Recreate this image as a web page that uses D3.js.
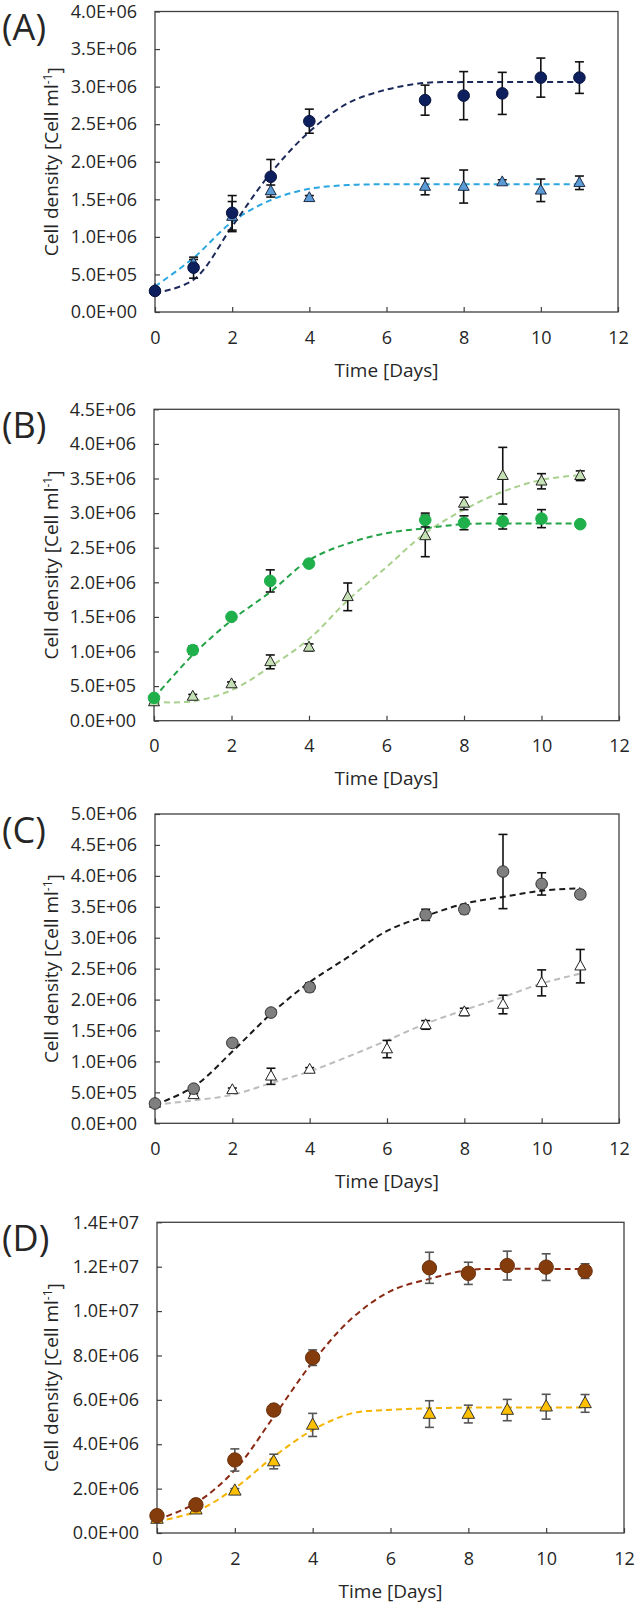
<!DOCTYPE html>
<html><head><meta charset="utf-8">
<script src="https://cdn.jsdelivr.net/npm/d3@7"></script>
<style>
body{margin:0;background:#fff}
svg{display:block}
text{font-family:'Open Sans',sans-serif;font-weight:400;fill:#262626}
</style>
</head><body>
<svg id="chart" width="635" height="1607"></svg>
<script>
// ---------- data (cells per ml) ----------
const xTicks = [0,2,4,6,8,10,12];
const fitDays = [0,1,2,3,4,5,6,7,8,9,10,11];
const daysMain = [0,1,2,3,4,7,8,9,10,11];

// Panel A
const aCircleVal = [0.28e6,0.59e6,1.32e6,1.80e6,2.54e6,2.82e6,2.88e6,2.91e6,3.12e6,3.12e6];
const aCircleErr = [0.03e6,0.14e6,0.23e6,0.23e6,0.16e6,0.20e6,0.32e6,0.28e6,0.26e6,0.21e6];
const aTriVal    = [0.30e6,0.65e6,1.27e6,1.61e6,1.52e6,1.67e6,1.67e6,1.73e6,1.62e6,1.72e6];
const aTriErr    = [0.02e6,0.05e6,0.20e6,0.08e6,0.03e6,0.11e6,0.22e6,0.03e6,0.15e6,0.09e6];
const aFitCircle = [0.25e6,0.43e6,1.14e6,1.85e6,2.40e6,2.78e6,2.96e6,3.05e6,3.06e6,3.06e6,3.06e6,3.06e6];
const aFitTri    = [0.34e6,0.72e6,1.20e6,1.49e6,1.64e6,1.69e6,1.70e6,1.70e6,1.70e6,1.70e6,1.70e6,1.70e6];
const aYTicks = [0,0.5e6,1.0e6,1.5e6,2.0e6,2.5e6,3.0e6,3.5e6,4.0e6];

// Panel B
const bTriDays   = [0,1,2,3,4,5,7,8,9,10,11];
const bCircleVal = [0.33e6,1.02e6,1.50e6,2.02e6,2.27e6,2.90e6,2.86e6,2.88e6,2.92e6,2.84e6];
const bCircleErr = [0.02e6,0.06e6,0.03e6,0.16e6,0.04e6,0.10e6,0.10e6,0.11e6,0.13e6,0.03e6];
const bTriVal    = [0.27e6,0.35e6,0.53e6,0.85e6,1.06e6,1.79e6,2.67e6,3.14e6,3.54e6,3.46e6,3.54e6];
const bTriErr    = [0.02e6,0.03e6,0.03e6,0.10e6,0.05e6,0.20e6,0.30e6,0.09e6,0.41e6,0.11e6,0.07e6];
const bFitCircle = [0.33e6,0.95e6,1.45e6,1.86e6,2.32e6,2.56e6,2.71e6,2.78e6,2.84e6,2.85e6,2.85e6,2.85e6];
const bFitTri    = [0.27e6,0.28e6,0.44e6,0.78e6,1.18e6,1.74e6,2.22e6,2.71e6,3.05e6,3.31e6,3.48e6,3.55e6];
const bYTicks = [0,0.5e6,1.0e6,1.5e6,2.0e6,2.5e6,3.0e6,3.5e6,4.0e6,4.5e6];

// Panel C
const cTriDays   = [0,1,2,3,4,6,7,8,9,10,11];
const cCircleVal = [0.32e6,0.56e6,1.30e6,1.79e6,2.20e6,3.37e6,3.46e6,4.07e6,3.87e6,3.70e6];
const cCircleErr = [0.02e6,0.03e6,0.04e6,0.05e6,0.07e6,0.09e6,0.07e6,0.60e6,0.18e6,0.04e6];
const cTriVal    = [0.32e6,0.46e6,0.54e6,0.76e6,0.87e6,1.20e6,1.59e6,1.80e6,1.92e6,2.27e6,2.54e6];
const cTriErr    = [0.02e6,0.02e6,0.03e6,0.13e6,0.03e6,0.14e6,0.07e6,0.06e6,0.15e6,0.21e6,0.27e6];
const cFitCircle = [0.30e6,0.59e6,1.16e6,1.77e6,2.28e6,2.69e6,3.11e6,3.35e6,3.55e6,3.66e6,3.76e6,3.80e6];
const cFitTri    = [0.30e6,0.37e6,0.46e6,0.65e6,0.84e6,1.08e6,1.34e6,1.61e6,1.83e6,2.04e6,2.26e6,2.42e6];
const cYTicks = [0,0.5e6,1.0e6,1.5e6,2.0e6,2.5e6,3.0e6,3.5e6,4.0e6,4.5e6,5.0e6];

// Panel D
const dCircleVal = [0.78e6,1.27e6,3.29e6,5.54e6,7.90e6,11.95e6,11.70e6,12.05e6,11.98e6,11.80e6];
const dCircleErr = [0.10e6,0.10e6,0.50e6,0.10e6,0.35e6,0.70e6,0.50e6,0.65e6,0.60e6,0.33e6];
const dTriVal    = [0.63e6,1.05e6,1.90e6,3.22e6,4.87e6,5.36e6,5.36e6,5.54e6,5.69e6,5.84e6];
const dTriErr    = [0.05e6,0.08e6,0.10e6,0.33e6,0.52e6,0.60e6,0.40e6,0.48e6,0.56e6,0.40e6];
const dFitCircle = [0.60e6,1.35e6,2.84e6,5.24e6,7.70e6,9.66e6,10.90e6,11.45e6,11.85e6,11.90e6,11.90e6,11.90e6];
const dFitTri    = [0.52e6,0.97e6,2.02e6,3.44e6,4.64e6,5.39e6,5.55e6,5.62e6,5.65e6,5.65e6,5.65e6,5.65e6];
const dYTicks = [0,2e6,4e6,6e6,8e6,10e6,12e6,14e6];

const panelLabels = ["(A)","(B)","(C)","(D)"];

// ---------- layout & style ----------
const panels = [
  {label:panelLabels[0], box:{l:155,r:618,t:11.5,b:312}, yTicks:aYTicks,
   circle:{days:daysMain,val:aCircleVal,err:aCircleErr,fill:"#0d1f5c",stroke:"#0a1540",r:5.8},
   tri:{days:daysMain,val:aTriVal,err:aTriErr,fill:"#5b9bd5",stroke:"#1f2a44",s:11},
   fitC:{val:aFitCircle,color:"#1c2a5a"}, fitT:{val:aFitTri,color:"#2aa7e0"}, errColor:"#111"},
  {label:panelLabels[1], box:{l:154,r:619,t:409.3,b:720.7}, yTicks:bYTicks,
   circle:{days:daysMain,val:bCircleVal,err:bCircleErr,fill:"#1fb04c",stroke:"#1fb04c",r:5.8},
   tri:{days:bTriDays,val:bTriVal,err:bTriErr,fill:"#c5e0b4",stroke:"#222",s:11},
   fitC:{val:bFitCircle,color:"#25a348"}, fitT:{val:bFitTri,color:"#a9d18e"}, errColor:"#111"},
  {label:panelLabels[2], box:{l:155,r:619,t:814,b:1123.3}, yTicks:cYTicks,
   circle:{days:daysMain,val:cCircleVal,err:cCircleErr,fill:"#7f7f7f",stroke:"#333",r:5.8},
   tri:{days:cTriDays,val:cTriVal,err:cTriErr,fill:"#ffffff",stroke:"#222",s:11},
   fitC:{val:cFitCircle,color:"#1a1a1a"}, fitT:{val:cFitTri,color:"#bdbdbd"}, errColor:"#111"},
  {label:panelLabels[3], box:{l:157,r:624,t:1222.3,b:1533}, yTicks:dYTicks,
   circle:{days:daysMain,val:dCircleVal,err:dCircleErr,fill:"#843c0c",stroke:"#6a2f0a",r:7.2},
   tri:{days:daysMain,val:dTriVal,err:dTriErr,fill:"#ffc000",stroke:"#333",s:12.5},
   fitC:{val:dFitCircle,color:"#8a2a14"}, fitT:{val:dFitTri,color:"#f5b400"}, errColor:"#555"}
];

function sci(v){
  const s = v.toExponential(1);
  const parts = s.split("e");
  const e = +parts[1];
  return parts[0] + "E" + (e<0?"-":"+") + String(Math.abs(e)).padStart(2,"0");
}

const svg = d3.select("#chart");

panels.forEach(p => {
  const g = svg.append("g");
  const x = d3.scaleLinear().domain([0,12]).range([p.box.l,p.box.r]);
  const yMax = p.yTicks[p.yTicks.length-1];
  const y = d3.scaleLinear().domain([0,yMax]).range([p.box.b,p.box.t]);

  // axes (ticks inward)
  const yAxis = d3.axisLeft(y).tickValues(p.yTicks).tickFormat(sci).tickSizeInner(-5).tickSizeOuter(0).tickPadding(18);
  const xAxis = d3.axisBottom(x).tickValues(xTicks).tickFormat(d3.format("d")).tickSizeInner(-5).tickSizeOuter(0).tickPadding(19);
  const ya = g.append("g").attr("transform",`translate(${p.box.l},0)`).call(yAxis);
  const xa = g.append("g").attr("transform",`translate(0,${p.box.b})`).call(xAxis);
  [ya,xa].forEach(a=>{
    a.select(".domain").remove();
    a.selectAll(".tick line").attr("stroke","#404040").attr("stroke-width",1.2);
    a.selectAll(".tick text").style("font-size","18px").style("font-family","'Open Sans', sans-serif").attr("fill","#262626");
  });

  // frame
  g.append("rect").attr("x",p.box.l).attr("y",p.box.t)
    .attr("width",p.box.r-p.box.l).attr("height",p.box.b-p.box.t)
    .attr("fill","none").attr("stroke","#404040").attr("stroke-width",1.3);

  // fit lines
  const line = d3.line().x((d,i)=>x(fitDays[i])).y(d=>y(d)).curve(d3.curveCatmullRom.alpha(0.5));
  [p.fitT,p.fitC].forEach(f=>{
    g.append("path").attr("d",line(f.val)).attr("fill","none")
      .attr("stroke",f.color).attr("stroke-width",2).attr("stroke-dasharray","6,4");
  });

  // error bars
  function errBars(s){
    const eg = g.append("g").attr("stroke",p.errColor).attr("stroke-width",1.6);
    s.val.forEach((v,i)=>{
      const cx = x(s.days[i]), y1 = y(v+s.err[i]), y0 = y(v-s.err[i]);
      eg.append("line").attr("x1",cx).attr("x2",cx).attr("y1",y1).attr("y2",y0);
      eg.append("line").attr("x1",cx-4.5).attr("x2",cx+4.5).attr("y1",y1).attr("y2",y1);
      eg.append("line").attr("x1",cx-4.5).attr("x2",cx+4.5).attr("y1",y0).attr("y2",y0);
    });
  }
  errBars(p.tri);
  errBars(p.circle);

  // triangles
  const t = p.tri;
  t.val.forEach((v,i)=>{
    const cx = x(t.days[i]), cy = y(v), s = t.s, h = s*0.9;
    g.append("path").attr("d",`M${cx},${cy-h*0.62}L${cx+s/2},${cy+h*0.38}L${cx-s/2},${cy+h*0.38}Z`)
      .attr("fill",t.fill).attr("stroke",t.stroke).attr("stroke-width",1);
  });
  // circles
  const c = p.circle;
  c.val.forEach((v,i)=>{
    g.append("circle").attr("cx",x(c.days[i])).attr("cy",y(v)).attr("r",c.r)
      .attr("fill",c.fill).attr("stroke",c.stroke).attr("stroke-width",1);
  });

  // titles
  g.append("text").attr("x",(p.box.l+p.box.r)/2).attr("y",p.box.b+58).attr("dy","0.35em")
    .attr("text-anchor","middle").style("font-size","19px").text("Time [Days]");
  const yt = g.append("text").attr("transform",`translate(51,${(p.box.t+p.box.b)/2}) rotate(-90)`)
    .attr("dy","0.35em").attr("text-anchor","middle").style("font-size","19px");
  yt.append("tspan").text("Cell density [Cell ml");
  yt.append("tspan").attr("dy","-0.45em").style("font-size","12px").text("-1");
  yt.append("tspan").attr("dy","0.45em").text("]");

  // panel label
  g.append("text").attr("x",2).attr("y",p.box.t+16).attr("dy","0.35em")
    .style("font-size","36px").text(p.label);
});
</script>
</body></html>
